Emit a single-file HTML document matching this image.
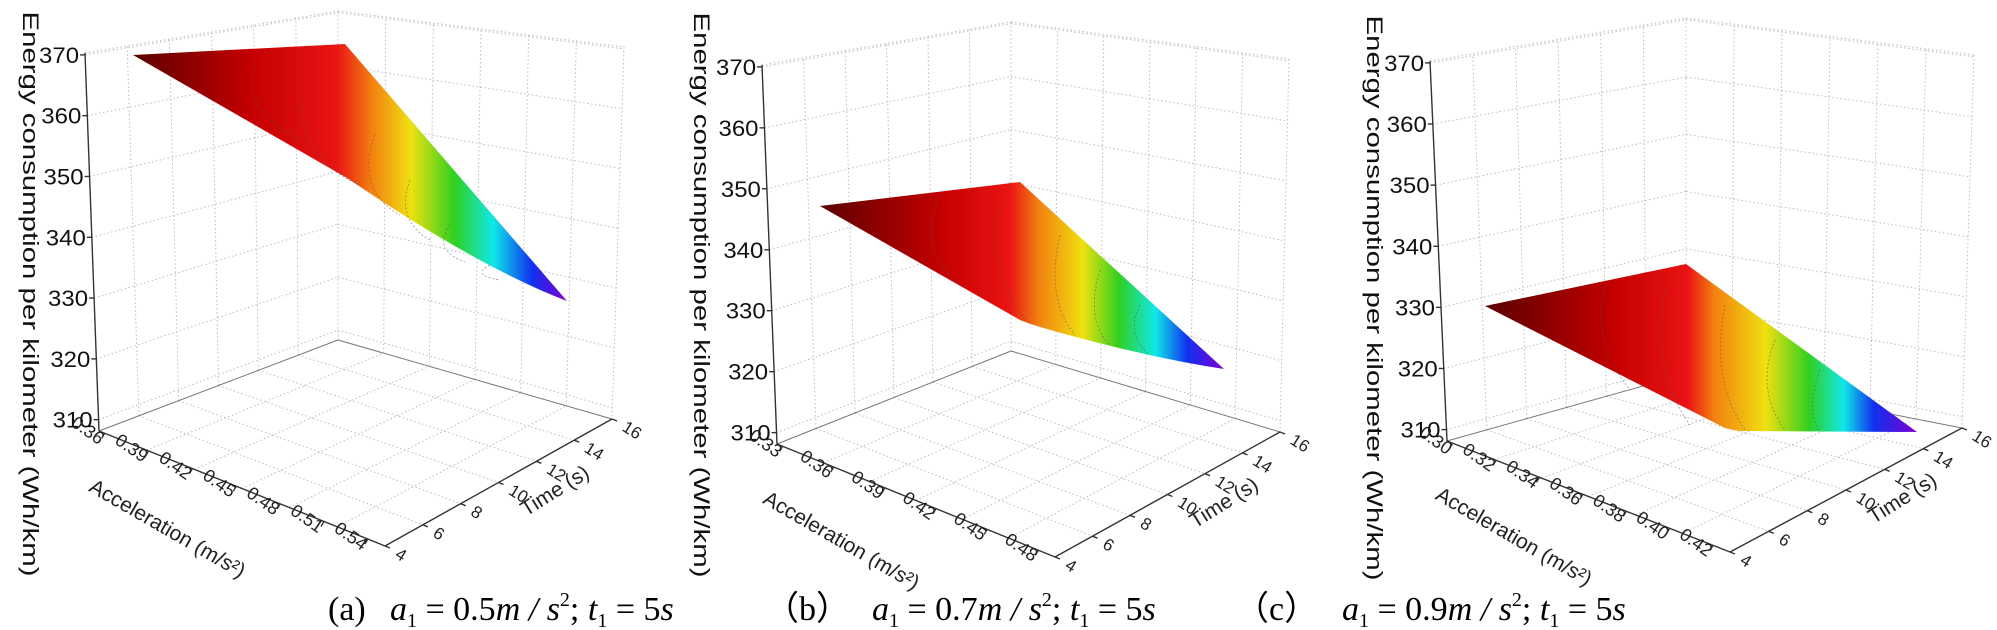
<!DOCTYPE html>
<html><head><meta charset="utf-8"><style>
html,body{margin:0;padding:0;background:#fff;}
svg{display:block;}
.cap{font-family:"Liberation Serif",serif;font-size:34px;fill:#000;}
.it{font-style:italic;}
</style></head><body>
<svg id="s" width="1997" height="630" viewBox="0 0 1997 630" xmlns="http://www.w3.org/2000/svg">
<defs>
<linearGradient id="ga" gradientUnits="userSpaceOnUse" x1="133" y1="0" x2="567" y2="0">
<stop offset="0" stop-color="#5a0000"/><stop offset="0.27" stop-color="#c40000"/><stop offset="0.47" stop-color="#ea1414"/><stop offset="0.55" stop-color="#f28010"/><stop offset="0.64" stop-color="#f0e010"/><stop offset="0.74" stop-color="#30d020"/><stop offset="0.83" stop-color="#10e8e8"/><stop offset="0.92" stop-color="#1030f0"/><stop offset="1" stop-color="#8000d0"/></linearGradient>
<linearGradient id="gb" gradientUnits="userSpaceOnUse" x1="820" y1="0" x2="1224" y2="0">
<stop offset="0" stop-color="#5a0000"/><stop offset="0.3" stop-color="#c40000"/><stop offset="0.47" stop-color="#ea1414"/><stop offset="0.54" stop-color="#f28010"/><stop offset="0.65" stop-color="#f0e010"/><stop offset="0.74" stop-color="#30d020"/><stop offset="0.83" stop-color="#10e8e8"/><stop offset="0.91" stop-color="#1030f0"/><stop offset="1" stop-color="#8000d0"/></linearGradient>
<linearGradient id="gc" gradientUnits="userSpaceOnUse" x1="1485" y1="0" x2="1917" y2="0">
<stop offset="0" stop-color="#5a0000"/><stop offset="0.3" stop-color="#c40000"/><stop offset="0.47" stop-color="#ea1414"/><stop offset="0.53" stop-color="#f28010"/><stop offset="0.65" stop-color="#f0e010"/><stop offset="0.75" stop-color="#30d020"/><stop offset="0.83" stop-color="#10e8e8"/><stop offset="0.9" stop-color="#1030f0"/><stop offset="1" stop-color="#8000d0"/></linearGradient>
</defs>
<g id="g"></g>
<path d="M133,55 L345,44 L567,301 Q480,268 347,178 Z" fill="url(#ga)"/>
<path d="M820,206 L1020,182 L1224,369 Q1140,356 1040,327 Q1030,324 1020,320 Z" fill="url(#gb)"/>
<path d="M1485,306 L1686,264 L1917,432 L1740,431 Q1732,430 1725,428 Z" fill="url(#gc)"/>
<g fill="none" stroke="#555" stroke-width="0.8" stroke-dasharray="2,2" opacity="0.6">
<path d="M255,65 Q240,110 300,140"/><path d="M300,95 Q300,160 360,185"/><path d="M375,135 Q355,190 400,215"/><path d="M410,180 Q395,220 430,240"/><path d="M450,225 Q432,250 465,262"/><path d="M490,265 Q470,275 500,280"/>
<path d="M940,195 Q915,250 960,285"/><path d="M1000,205 Q985,270 1030,325"/><path d="M1060,235 Q1045,300 1075,335"/><path d="M1100,270 Q1085,320 1110,345"/><path d="M1140,305 Q1125,335 1150,355"/>
<path d="M1605,285 Q1590,340 1630,390"/><path d="M1665,290 Q1650,370 1690,425"/><path d="M1725,305 Q1710,380 1745,430"/><path d="M1775,340 Q1755,390 1785,430"/><path d="M1820,370 Q1805,410 1820,432"/>
</g>
<text class="cap" x="328" y="620">(a)</text>
<text class="cap it" x="390" y="620">a<tspan font-size="20" dy="7" font-style="normal">1</tspan><tspan dy="-7" font-style="normal"> = 0.5</tspan>m / s<tspan font-size="20" dy="-14" font-style="normal">2</tspan><tspan dy="14" font-style="normal">; </tspan>t<tspan font-size="20" dy="7" font-style="normal">1</tspan><tspan dy="-7" font-style="normal"> = 5</tspan>s</text>
<text class="cap" x="765" y="620">（b）</text>
<text class="cap it" x="872" y="620">a<tspan font-size="20" dy="7" font-style="normal">1</tspan><tspan dy="-7" font-style="normal"> = 0.7</tspan>m / s<tspan font-size="20" dy="-14" font-style="normal">2</tspan><tspan dy="14" font-style="normal">; </tspan>t<tspan font-size="20" dy="7" font-style="normal">1</tspan><tspan dy="-7" font-style="normal"> = 5</tspan>s</text>
<text class="cap" x="1235" y="620">（c）</text>
<text class="cap it" x="1342" y="620">a<tspan font-size="20" dy="7" font-style="normal">1</tspan><tspan dy="-7" font-style="normal"> = 0.9</tspan>m / s<tspan font-size="20" dy="-14" font-style="normal">2</tspan><tspan dy="14" font-style="normal">; </tspan>t<tspan font-size="20" dy="7" font-style="normal">1</tspan><tspan dy="-7" font-style="normal"> = 5</tspan>s</text>
</svg>
<script>
var g=document.getElementById('g');var NS="http://www.w3.org/2000/svg";
function el(t,a,txt){var e=document.createElementNS(NS,t);for(var k in a)e.setAttribute(k,a[k]);if(txt!==undefined)e.textContent=txt;g.appendChild(e);return e;}
function L(p,q,t){return [p[0]+(q[0]-p[0])*t,p[1]+(q[1]-p[1])*t];}
function line(p,q,dash,col,w){var a={x1:p[0],y1:p[1],x2:q[0],y2:q[1],stroke:col||'#333','stroke-width':w||1.4};if(dash){a['stroke-dasharray']='1.5,2.5';a.stroke='#bbb';a['stroke-width']=1;}el('line',a);}
var P=[
{A:[85,53],B:[99,431],C:[338,340],D:[338,11],E:[624,47],F:[612,419],G:[385,546],acc:['0.36','0.39','0.42','0.45','0.48','0.51','0.54'],tx:30,ty:294},
{A:[762,65],B:[777,444],C:[1011,351],D:[1011,22],E:[1289,59],F:[1280,432],G:[1055,557],acc:['0.33','0.36','0.39','0.42','0.45','0.48'],tx:701,ty:295},
{A:[1430,61],B:[1447,441],C:[1686,374],D:[1686,18],E:[1974,55],F:[1962,428],G:[1730,552],acc:['0.30','0.32','0.34','0.36','0.38','0.40','0.42'],tx:1374,ty:298}
];
P.forEach(function(p){
 var yt=function(v){return 0.005+(370-v)/60*0.965;};
 for(var v=310;v<=370;v+=10){var t=yt(v);
  var a=L(p.A,p.B,t),c=L(p.D,p.C,t),e=L(p.E,p.F,t);line(a,c,1);line(c,e,1);}
 for(var i=1;i<6;i++){var t=i/6;
  line(L(p.B,p.C,t),L(p.A,p.D,t),1);line(L(p.C,p.F,t),L(p.D,p.E,t),1);
  line(L(p.B,p.C,t),L(p.G,p.F,t),1);line(L(p.B,p.G,t),L(p.C,p.F,t),1);}
 line(p.A,p.D,1);line(p.D,p.E,1);line(p.D,p.C,1);line(p.E,p.F,1);
 line(p.B,p.C,0,'#777',1);line(p.C,p.F,0,'#777',1);
 line(p.A,p.B);line(p.B,p.G);line(p.G,p.F);
 for(var v=310;v<=370;v+=10){var q=L(p.A,p.B,yt(v));line([q[0]-5,q[1]],q);
  el('text',{x:q[0]-6,y:q[1]+8,'text-anchor':'end','font-family':'Liberation Sans,sans-serif','font-size':22,fill:'#111',textLength:40,lengthAdjust:'spacingAndGlyphs'},v);}
 var n=p.acc.length;
 p.acc.forEach(function(s,i){var t=0.02+i*0.92/(n-1);var q=L(p.B,p.G,t);
  line(q,[q[0]-3,q[1]+5]);
  var x=q[0]-6,y=q[1]+12;
  el('text',{x:x,y:y,'text-anchor':'end','font-family':'Liberation Sans,sans-serif','font-size':18,fill:'#222',transform:'rotate(35 '+x+' '+y+')'},s);});
 for(var i=0;i<7;i++){var t=i/6;var q=L(p.G,p.F,t);line(q,[q[0]+5,q[1]+2]);
  var x=q[0]+9,y=q[1]+11;
  el('text',{x:x,y:y,'font-family':'Liberation Sans,sans-serif','font-size':17,fill:'#222',transform:'rotate(32 '+x+' '+y+')'},4+2*i);}
 var m=L(p.B,p.G,0.5),x=m[0]-78,y=m[1]+46;
 el('text',{x:x,y:y,'text-anchor':'middle','font-family':'Liberation Sans,sans-serif','font-size':21,fill:'#222',transform:'rotate(30 '+x+' '+y+')'},'Acceleration (m/s\u00b2)');
 m=L(p.G,p.F,0.5);x=m[0]+60;y=m[1]+14;
 el('text',{x:x,y:y,'text-anchor':'middle','font-family':'Liberation Sans,sans-serif','font-size':21,fill:'#222',transform:'rotate(-32 '+x+' '+y+')'},'Time (s)');
 el('text',{x:p.tx,y:p.ty,'text-anchor':'middle','font-family':'Liberation Sans,sans-serif','font-size':22,fill:'#111',textLength:565,lengthAdjust:'spacingAndGlyphs',transform:'rotate(90 '+p.tx+' '+p.ty+') translate(0 7)'},'Energy consumption per kilometer (Wh/km)');
});
</script>
</body></html>
